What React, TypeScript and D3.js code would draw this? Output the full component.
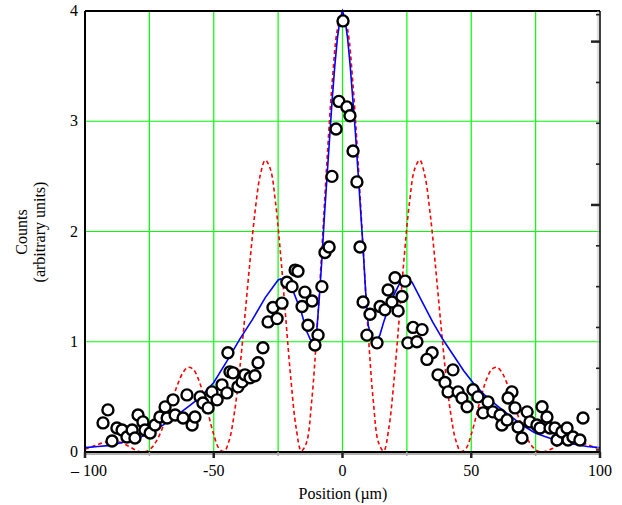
import React from "react";
import * as d3 from "d3";

// ---- data ----
const xTicks = [-100, -50, 0, 50, 100];
const xTickLabels = ["\u2013 100", "-50", "0", "50", "100"];
const xMinorTicks = [-75, -25, 25, 75];
const gridX = [-75, -50, -25, 0, 25, 50, 75];
const yTicks = [0, 1, 2, 3, 4];
const gridY = [1, 2, 3];
const rightTicks = [0, 1, 2, 3, 4, 5, 6, 7, 8, 9, 10, 10.66];
const rightMajor = [6, 10];

// dashed red model (sampled every 2 µm from -100 to 100)
const redX = d3.range(-100, 101, 2);
const redY = [
  0.026, 0.042, 0.059, 0.076, 0.09, 0.097, 0.096, 0.085, 0.064, 0.038,
  0.014, 0.001, 0.007, 0.042, 0.11, 0.212, 0.341, 0.482, 0.615, 0.718,
  0.768, 0.751, 0.663, 0.516, 0.334, 0.158, 0.033, 0.004, 0.106, 0.353,
  0.731, 1.208, 1.714, 2.172, 2.504, 2.647, 2.565, 2.261, 1.78, 1.204,
  0.649, 0.218, 0.009, 0.084, 0.453, 1.071, 1.845, 2.652, 3.354, 3.831,
  4.0,
  3.831, 3.354, 2.652, 1.845, 1.071, 0.453, 0.084, 0.009, 0.218, 0.649,
  1.204, 1.78, 2.261, 2.565, 2.647, 2.504, 2.172, 1.714, 1.208, 0.731,
  0.353, 0.106, 0.004, 0.033, 0.158, 0.334, 0.516, 0.663, 0.751, 0.768,
  0.718, 0.615, 0.482, 0.341, 0.212, 0.11, 0.042, 0.007, 0.001, 0.014,
  0.038, 0.064, 0.085, 0.096, 0.097, 0.09, 0.076, 0.059, 0.042, 0.026,
];

// solid blue model
const blueX = [
  -100, -95, -90, -85, -80, -75, -70, -65, -60, -55, -50, -45, -40, -35, -30,
  -25, -24, -22, -19, -16, -14, -12.5, -11, -10, -9, -8, -7, -6, -5, -4, -3,
  -2, -1, 0, 1, 2, 3, 4, 5, 6, 7, 8, 9, 10, 11.5, 13, 14.5, 16, 19, 22, 25,
  27, 31, 35, 39, 43, 47, 51, 55, 60, 65, 70, 75, 80, 85, 90, 95, 100,
];
const blueY = [
  0.04, 0.05, 0.06, 0.09, 0.12, 0.17, 0.24, 0.32, 0.41, 0.5, 0.63, 0.82, 1.02,
  1.2, 1.4, 1.56, 1.57, 1.54, 1.45, 1.27, 1.1, 1.02, 1.0, 1.1, 1.4, 1.75, 2.15,
  2.5, 2.85, 3.2, 3.5, 3.75, 3.92, 4.0, 3.92, 3.75, 3.5, 3.2, 2.9, 2.55, 2.2,
  1.85, 1.45, 1.15, 1.0, 1.0, 1.06, 1.18, 1.38, 1.52, 1.56, 1.54, 1.36, 1.18,
  1.02, 0.88, 0.74, 0.62, 0.52, 0.42, 0.33, 0.24, 0.17, 0.13, 0.09, 0.07,
  0.05, 0.04,
];

// measured counts (open circles)
const ptX = [
  -93.0, -91.1, -89.5, -87.6, -85.6, -83.7, -81.7, -80.6, -79.4, -77.5, -76.7,
  -74.7, -72.8, -70.9, -68.9, -68.1, -65.8, -65.0, -61.9, -60.4, -58.4, -57.3,
  -55.3, -54.2, -52.2, -50.7, -48.7, -46.8, -44.9, -44.5, -43.7, -42.5, -40.6,
  -39.0, -37.9, -35.9, -34.0, -32.8, -30.9, -28.9, -25.4, -27.0, -23.5, -21.6,
  -19.6, -18.4, -17.3, -14.6, -11.8, -15.7, -13.4, -9.5, -10.7, -8.0, -6.8,
  -5.2, -4.1, -2.5, -1.4, 0.2, 1.7, 2.9, 4.1, 5.6, 6.8, 8.0, 10.7, 9.5, 13.4,
  14.6, 16.5, 17.7, 19.2, 20.4, 24.3, 23.1, 21.6, 25.4, 27.4, 28.9, 30.9,
  34.8, 32.8, 37.1, 39.8, 41.0, 42.9, 44.9, 46.4, 48.4, 50.7, 52.6, 54.6,
  56.5, 58.4, 61.2, 61.9, 63.9, 65.8, 64.3, 67.0, 68.2, 69.7, 71.7, 72.8,
  75.5, 77.5, 79.4, 76.7, 80.6, 82.5, 83.3, 85.2, 87.2, 87.6, 89.5, 92.2,
  93.4,
];
const ptY = [
  0.264, 0.382, 0.1, 0.218, 0.2, 0.136, 0.2, 0.127, 0.336, 0.273, 0.2, 0.173,
  0.245, 0.318, 0.409, 0.309, 0.473, 0.336, 0.309, 0.518, 0.245, 0.318, 0.5,
  0.445, 0.4, 0.545, 0.473, 0.609, 0.536, 0.9, 0.727, 0.718, 0.591, 0.636, 0.7,
  0.673, 0.691, 0.809, 0.945, 1.18, 1.21, 1.31, 1.35, 1.54, 1.5, 1.65, 1.64,
  1.45, 1.37, 1.32, 1.15, 1.06, 0.97, 1.5, 1.81, 1.86, 2.5, 2.93, 3.18, 3.91,
  3.13, 3.05, 2.73, 2.45, 1.86, 1.36, 1.25, 1.06, 0.99, 1.32, 1.29, 1.47, 1.36,
  1.58, 1.55, 1.41, 1.28, 0.99, 1.13, 1.0, 1.11, 0.9, 0.84, 0.7, 0.63, 0.545,
  0.745, 0.545, 0.49, 0.41, 0.564, 0.5, 0.355, 0.455, 0.364, 0.336, 0.245,
  0.291, 0.545, 0.49, 0.4, 0.227, 0.127, 0.364, 0.273, 0.245, 0.41, 0.318,
  0.218, 0.218, 0.218, 0.109, 0.182, 0.218, 0.109, 0.136, 0.109, 0.309,
];

const W = 622;
const H = 505;
const L = 85;
const R = 600;
const T = 11;
const B = 452;
const FONT = "'Liberation Serif', 'Times New Roman', serif";

export default function App() {
  const x = d3.scaleLinear().domain([-100, 100]).range([L, R]);
  const y = d3.scaleLinear().domain([0, 4]).range([B, T]);
  const yR = d3.scaleLinear().domain([-0.05, 10.75]).range([B, T]);

  const redLine = d3
    .line<number>()
    .x((_, i) => x(redX[i]))
    .y((d) => y(d))
    .curve(d3.curveCatmullRom.alpha(0.5));
  const blueLine = d3
    .line<number>()
    .x((_, i) => x(blueX[i]))
    .y((d) => y(d));

  return (
    <svg
      width={W}
      height={H}
      style={{ position: "absolute", left: 0, top: 0, background: "#fff" }}
    >
      <rect x={0} y={0} width={W} height={H} fill="#fff" />
      {/* grid */}
      {gridX.map((v) => (
        <line key={"gx" + v} x1={x(v)} x2={x(v)} y1={T} y2={B} stroke="#00ff00" strokeWidth={1.2} />
      ))}
      {gridY.map((v) => (
        <line key={"gy" + v} x1={L} x2={R} y1={y(v)} y2={y(v)} stroke="#00ff00" strokeWidth={1.2} />
      ))}

      {/* model curves */}
      <path d={redLine(redY) || ""} fill="none" stroke="#ff0000" strokeWidth={1.6} strokeDasharray="4,3" />
      <path d={blueLine(blueY) || ""} fill="none" stroke="#0000ff" strokeWidth={1.6} />

      {/* points */}
      {ptX.map((v, i) => (
        <circle key={"p" + i} cx={x(v)} cy={y(ptY[i])} r={5.5} fill="#fff" stroke="#000" strokeWidth={2.4} />
      ))}

      {/* frame */}
      <line x1={L} x2={R} y1={T} y2={T} stroke="#000" strokeWidth={2} />
      <line x1={L} x2={L} y1={T} y2={B} stroke="#000" strokeWidth={2} />
      <line x1={R - 2} x2={R - 2} y1={T} y2={B} stroke="#bbb" strokeWidth={1} />
      <line x1={R} x2={R} y1={T} y2={B + 2} stroke="#000" strokeWidth={1.5} />
      <line x1={L} x2={R} y1={B + 2} y2={B + 2} stroke="#999" strokeWidth={1.5} />
      <line x1={L} x2={R} y1={B} y2={B} stroke="#000" strokeWidth={2} />

      {/* right axis ticks */}
      {rightTicks.map((v) => {
        const major = rightMajor.includes(v);
        return (
          <line
            key={"rt" + v}
            x1={R - (major ? 9 : 4)}
            x2={R}
            y1={yR(v)}
            y2={yR(v)}
            stroke="#222"
            strokeWidth={major ? 2.5 : 1.6}
          />
        );
      })}

      {/* bottom ticks */}
      {xMinorTicks.map((v) => (
        <line key={"mt" + v} x1={x(v)} x2={x(v)} y1={B} y2={B + 4} stroke="#aaa" strokeWidth={1.5} />
      ))}
      {xTicks.map((v) => (
        <line key={"xt" + v} x1={x(v)} x2={x(v)} y1={B} y2={B + 6} stroke="#222" strokeWidth={2.5} />
      ))}

      {/* tick labels */}
      {xTicks.map((v, i) => (
        <text
          key={"xl" + v}
          x={x(v) + (i === 0 ? 4 : 0)}
          y={476}
          textAnchor="middle"
          fontFamily={FONT}
          fontSize={16}
          fill="#000"
        >
          {xTickLabels[i]}
        </text>
      ))}
      {yTicks.map((v) => (
        <text
          key={"yl" + v}
          x={78}
          y={y(v) + 5}
          textAnchor="end"
          fontFamily={FONT}
          fontSize={16}
          fill="#000"
        >
          {v}
        </text>
      ))}

      {/* axis titles */}
      <text x={343} y={499} textAnchor="middle" fontFamily={FONT} fontSize={16} fill="#000">
        Position (µm)
      </text>
      <text
        transform="translate(27,232) rotate(-90)"
        textAnchor="middle"
        fontFamily={FONT}
        fontSize={16}
        fill="#000"
      >
        Counts
      </text>
      <text
        transform="translate(45,232) rotate(-90)"
        textAnchor="middle"
        fontFamily={FONT}
        fontSize={16}
        fill="#000"
      >
        (arbitrary units)
      </text>
    </svg>
  );
}
